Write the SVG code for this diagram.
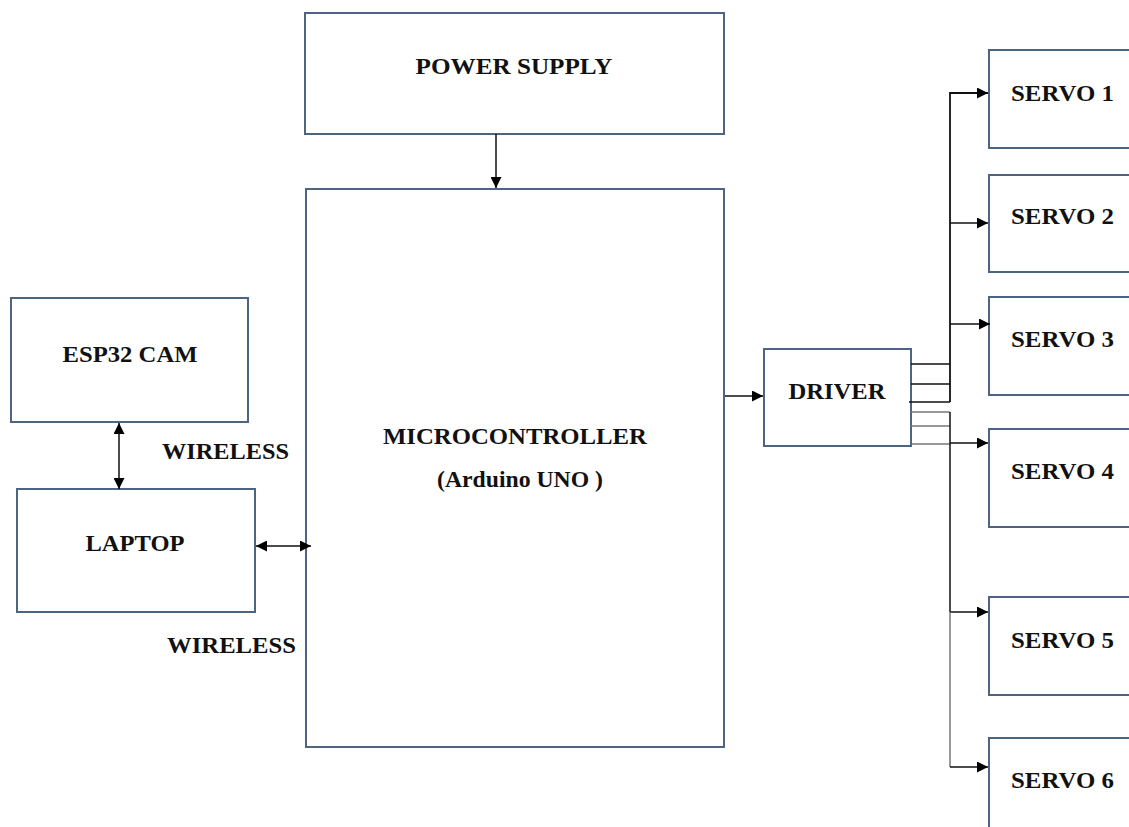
<svg xmlns="http://www.w3.org/2000/svg" width="1129" height="827" viewBox="0 0 1129 827">
<style>
.box{fill:#fff;stroke:#4d6580;stroke-width:2}
.lbl{font-family:"Liberation Serif","DejaVu Serif",serif;font-weight:bold;font-size:23px;fill:#111}
.ln{stroke:#111;stroke-width:1.5;fill:none}
.gl{stroke:#777;stroke-width:1.5;fill:none}
</style>
<defs>
<marker id="ah" viewBox="0 0 10 10" refX="10" refY="5" markerWidth="12" markerHeight="11" markerUnits="userSpaceOnUse" orient="auto-start-reverse">
<path d="M0,0 L10,5 L0,10 z" fill="#000"/>
</marker>
</defs>
<rect width="1129" height="827" fill="#fff"/>
<g id="power-supply"><rect class="box" x="305" y="13" width="419" height="121"/><text class="lbl" x="514" y="74" text-anchor="middle" textLength="197" lengthAdjust="spacingAndGlyphs">POWER SUPPLY</text></g>
<g id="microcontroller"><rect class="box" x="306" y="189" width="418" height="558"/><text class="lbl" x="515" y="444" text-anchor="middle" textLength="264" lengthAdjust="spacingAndGlyphs">MICROCONTROLLER</text><text class="lbl" x="520" y="487" text-anchor="middle" textLength="166" lengthAdjust="spacingAndGlyphs">(Arduino UNO )</text></g>
<g id="esp32-cam"><rect class="box" x="11" y="298" width="237" height="124"/><text class="lbl" x="130" y="362" text-anchor="middle" textLength="135" lengthAdjust="spacingAndGlyphs">ESP32 CAM</text></g>
<g id="laptop"><rect class="box" x="17" y="489" width="238" height="123"/><text class="lbl" x="135" y="551" text-anchor="middle" textLength="99" lengthAdjust="spacingAndGlyphs">LAPTOP</text></g>
<g id="driver"><rect class="box" x="764" y="349" width="147" height="97"/><text class="lbl" x="837" y="399" text-anchor="middle" textLength="97" lengthAdjust="spacingAndGlyphs">DRIVER</text></g>
<g id="servo-1"><rect class="box" x="989" y="50" width="150" height="98"/><text class="lbl" x="1011" y="101" textLength="103" lengthAdjust="spacingAndGlyphs">SERVO 1</text></g>
<g id="servo-2"><rect class="box" x="989" y="175" width="150" height="97"/><text class="lbl" x="1011" y="224" textLength="103" lengthAdjust="spacingAndGlyphs">SERVO 2</text></g>
<g id="servo-3"><rect class="box" x="989" y="297" width="150" height="98"/><text class="lbl" x="1011" y="347" textLength="103" lengthAdjust="spacingAndGlyphs">SERVO 3</text></g>
<g id="servo-4"><rect class="box" x="989" y="429" width="150" height="98"/><text class="lbl" x="1011" y="479" textLength="103" lengthAdjust="spacingAndGlyphs">SERVO 4</text></g>
<g id="servo-5"><rect class="box" x="989" y="597" width="150" height="98"/><text class="lbl" x="1011" y="648" textLength="103" lengthAdjust="spacingAndGlyphs">SERVO 5</text></g>
<g id="servo-6"><rect class="box" x="989" y="738" width="150" height="110"/><text class="lbl" x="1011" y="788" textLength="103" lengthAdjust="spacingAndGlyphs">SERVO 6</text></g>
<g id="labels">
<text class="lbl" x="162" y="459" textLength="127" lengthAdjust="spacingAndGlyphs">WIRELESS</text>
<text class="lbl" x="167" y="653" textLength="129" lengthAdjust="spacingAndGlyphs">WIRELESS</text>
</g>
<g id="connectors">
<line class="ln" x1="496" y1="134" x2="496" y2="188" marker-end="url(#ah)"/>
<line class="ln" x1="119" y1="423" x2="119" y2="489" marker-start="url(#ah)" marker-end="url(#ah)"/>
<line class="ln" x1="256" y1="546" x2="311" y2="546" marker-start="url(#ah)" marker-end="url(#ah)"/>
<line class="ln" x1="725" y1="396" x2="763" y2="396" marker-end="url(#ah)"/>
<path class="ln" d="M911,364 H950 M911,384 H950 M909,402 H950"/>
<path class="ln" d="M950,402 V93 H988" marker-end="url(#ah)" style="stroke-width:1.8"/>
<path class="ln" d="M950,223 H988" marker-end="url(#ah)"/>
<path class="ln" d="M950,324 H990" marker-end="url(#ah)"/>
<path class="gl" d="M911,412 H950 M911,426 H950 M911,444 H950"/>
<path class="ln" d="M950,412 V612"/>
<path class="ln" d="M950,443 H988" marker-end="url(#ah)"/>
<path class="ln" d="M950,612 H988" marker-end="url(#ah)"/>
<path class="gl" d="M950,612 V767"/>
<path class="ln" d="M950,767 H988" marker-end="url(#ah)"/>
</g>
</svg>
